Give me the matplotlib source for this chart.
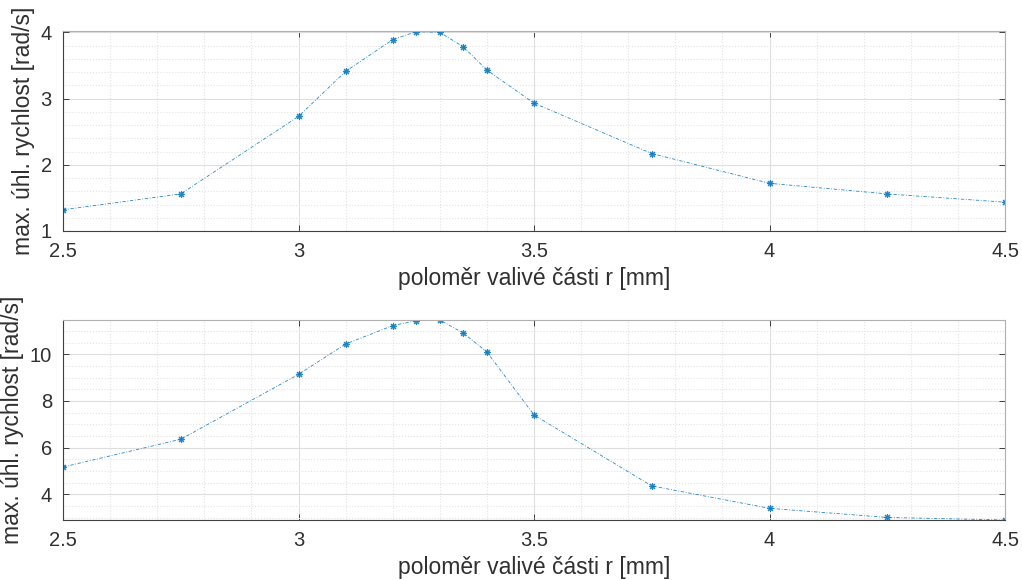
import matplotlib.pyplot as plt
from matplotlib.ticker import MultipleLocator

plt.rcParams['font.family'] = ['Liberation Sans', 'DejaVu Sans']
plt.rcParams['font.size'] = 14.5

# data
r = [2.5, 2.75, 3.0, 3.1, 3.2, 3.25, 3.3, 3.35, 3.4, 3.5, 3.75, 4.0, 4.25, 4.5]
omega_top = [1.32, 1.56, 2.73, 3.41, 3.89, 4.01, 4.0, 3.78, 3.43, 2.93, 2.17, 1.72, 1.56, 1.435]
omega_bottom = [5.17, 6.36, 9.14, 10.44, 11.23, 11.44, 11.47, 10.91, 10.1, 7.4, 4.36, 3.4, 3.01, 2.9]

xlabel = 'poloměr valivé části r [mm]'
ylabel = 'max. úhl. rychlost [rad/s]'
line_color = '#0072BD'

fig = plt.figure(figsize=(10.22, 5.80), dpi=100)
ax1 = fig.add_axes([63 / 1022, 1 - 231 / 580, 942 / 1022, 200 / 580])
ax2 = fig.add_axes([63 / 1022, 1 - 520 / 580, 942 / 1022, 200 / 580])


def style_axes(ax, y, ylim, ymajor, yminor):
    ax.plot(r, y, linestyle=(0, (4, 2, 1, 2)), color=line_color, linewidth=0.6,
            alpha=0.85, marker=(8, 2, 0), markersize=5, markeredgewidth=0.8)
    ax.set_xlim(2.5, 4.5)
    ax.set_ylim(*ylim)
    ax.xaxis.set_major_locator(MultipleLocator(0.5))
    ax.xaxis.set_minor_locator(MultipleLocator(0.1))
    ax.yaxis.set_major_locator(MultipleLocator(ymajor))
    ax.yaxis.set_minor_locator(MultipleLocator(yminor))
    ax.set_xticks([2.5, 3, 3.5, 4, 4.5])
    ax.set_xticklabels(['2.5', '3', '3.5', '4', '4.5'])
    ax.grid(which='major', color='#dedede', linewidth=0.8)
    ax.grid(which='minor', color='#e3e3e3', linestyle=':', linewidth=0.8)
    ax.set_axisbelow(True)
    ax.tick_params(which='both', direction='in', top=True, right=True,
                   colors='#262626', labelcolor='#303030')
    ax.tick_params(which='major', length=4, width=0.6, pad=8)
    ax.tick_params(which='minor', length=0)
    for side in ('left', 'bottom'):
        ax.spines[side].set_color('#404040')
        ax.spines[side].set_linewidth(0.8)
    for side in ('top', 'right'):
        ax.spines[side].set_color('#b0b0b0')
        ax.spines[side].set_linewidth(0.8)
    ax.set_xlabel(xlabel, color='#303030', fontsize=16.5, labelpad=4)
    ax.set_ylabel(ylabel, color='#303030', fontsize=16.5, labelpad=4)


style_axes(ax1, omega_top, (1, 4.02), 1, 0.2)
style_axes(ax2, omega_bottom, (2.9, 11.47), 2, 0.5)

fig.savefig('out.png', dpi=100)
